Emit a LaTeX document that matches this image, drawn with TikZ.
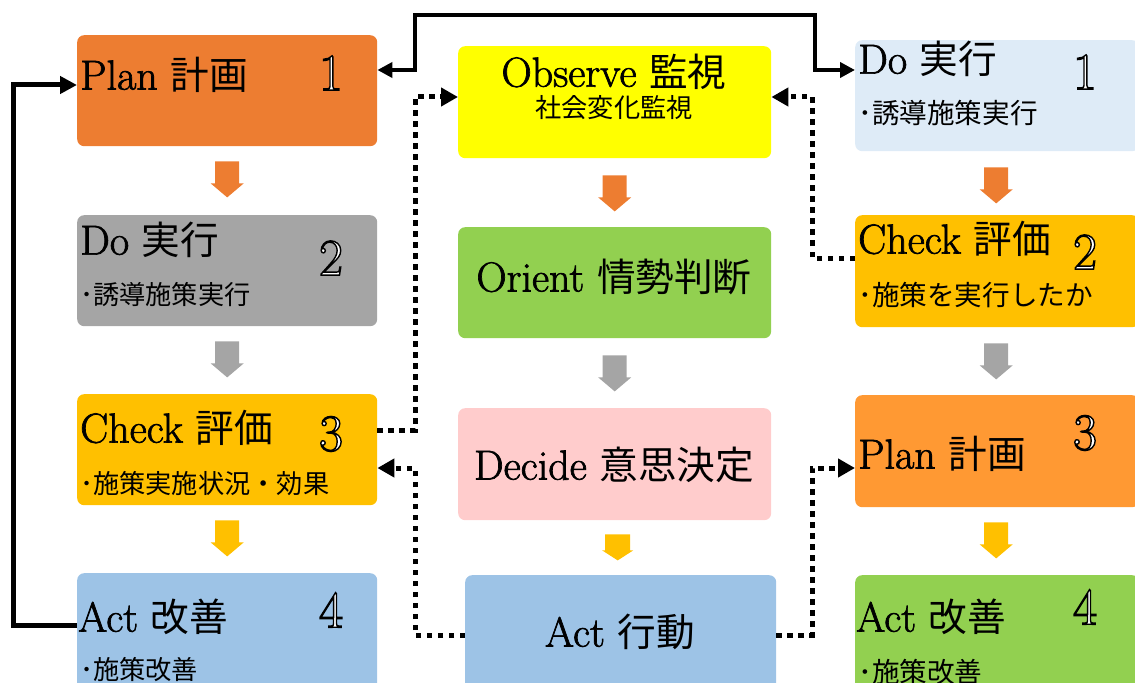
\documentclass[tikz,border=0pt]{standalone}
\usepackage{fontspec}
\newfontfamily\jp[Scale=0.92]{Noto Sans CJK JP}
\usetikzlibrary{calc,arrows.meta}
\definecolor{cOrange}{HTML}{ED7D31}
\definecolor{cGray}{HTML}{A5A5A5}
\definecolor{cGold}{HTML}{FFC000}
\definecolor{cBlue}{HTML}{9DC3E6}
\definecolor{cYellow}{HTML}{FFFF00}
\definecolor{cGreen}{HTML}{92D050}
\definecolor{cPink}{HTML}{FFCCCC}
\definecolor{cLight}{HTML}{DEEBF7}
\definecolor{cOrangeB}{HTML}{FF9933}
% outlined number: white fill, black stroke
\newcommand\olnum[1]{\textcolor{white}{\special{pdf:literal direct 2 Tr 1.4 w 0 G}#1\special{pdf:literal direct 0 Tr}}}
% slightly heavier latin text
\newcommand\lat[1]{\special{pdf:literal direct 2 Tr 0.7 w}#1\special{pdf:literal direct 0 Tr}}
\tikzset{
  box/.style={rounded corners=7bp, inner sep=0pt, anchor=north west, draw=none},
  ttl/.style={font=\fontsize{42bp}{48bp}\selectfont, inner sep=0pt, anchor=west},
  ttlc/.style={font=\fontsize{42bp}{48bp}\selectfont, inner sep=0pt, anchor=center},
  sub/.style={font=\fontsize{28.5bp}{33bp}\selectfont\jp, inner sep=0pt, anchor=west},
  subr/.style={font=\fontsize{30bp}{34bp}\selectfont\jp, inner sep=0pt, anchor=west},
  subc/.style={font=\fontsize{28.5bp}{33bp}\selectfont\jp, inner sep=0pt, anchor=center},
  num/.style={font=\fontsize{52bp}{56bp}\selectfont, inner sep=0pt, anchor=center},
  blockarrow/.pic={\path[pic actions] (-12,0) -- (12,0) -- (12,22) -- (16.5,22) -- (0,36) -- (-16.5,22) -- (-12,22) -- cycle;},
  blockarrowsmall/.pic={\path[pic actions] (-12.5,0) -- (12.5,0) -- (12.5,16) -- (15.5,16) -- (0,26) -- (-15.5,16) -- (-12.5,16) -- cycle;},
  solidline/.style={line width=4bp, -{Triangle[length=15bp,width=15bp]}},
  dotline/.style={line width=5bp, dash pattern=on 5.5bp off 5.5bp, -{Triangle[length=17bp,width=18bp]}},
}
\begin{document}
\begin{tikzpicture}[x=1bp,y=-1bp]
\useasboundingbox (0,0) rectangle (1135,683);
\clip (0,0) rectangle (1135,683);
% boxes
\node[box, fill=cOrange, minimum width=300bp, minimum height=111bp] (L1) at (77,35) {};
\node[box, fill=cGray,   minimum width=300bp, minimum height=111bp] (L2) at (77,215) {};
\node[box, fill=cGold,   minimum width=300bp, minimum height=111bp] (L3) at (77,394) {};
\node[box, fill=cBlue,   minimum width=300bp, minimum height=125bp] (L4) at (77,573) {};
\node[box, fill=cYellow, minimum width=313bp, minimum height=112bp] (M1) at (458,46) {};
\node[box, fill=cGreen,  minimum width=313bp, minimum height=111bp] (M2) at (458,227) {};
\node[box, fill=cPink,   minimum width=313bp, minimum height=112bp] (M3) at (458,408) {};
\node[box, fill=cBlue,   minimum width=311bp, minimum height=125bp] (M4) at (465,575) {};
\node[box, fill=cLight,  minimum width=284bp, minimum height=111bp] (R1) at (855,40) {};
\node[box, fill=cGold,   minimum width=284bp, minimum height=112bp] (R2) at (855,215) {};
\node[box, fill=cOrangeB,minimum width=284bp, minimum height=112bp] (R3) at (855,395) {};
\node[box, fill=cGreen,  minimum width=284bp, minimum height=125bp] (R4) at (855,575) {};
% texts left
\node[ttl] (L1t) at (80,75) {\lat{Plan} {\jp 計画}};
\node[num] (L1n) at (331,73) {\olnum{1}};
\node[ttl] (L2t) at (80,240) {\lat{Do} {\jp 実行}};
\node[sub] (L2s) at (80,295) {･誘導施策実行};
\node[num] (L2n) at (331,258) {\olnum{2}};
\node[ttl] (L3t) at (80,428) {\lat{Check} {\jp 評価}};
\node[sub] (L3s) at (80,484) {･施策実施状況・効果};
\node[num] (L3n) at (331,434) {\olnum{3}};
\node[ttl] (L4t) at (78,617) {\lat{Act} {\jp 改善}};
\node[sub] (L4s) at (80,670) {･施策改善};
\node[num] (L4n) at (331,610) {\olnum{4}};
% texts middle
\node[ttlc] (M1t) at (614,72) {\lat{Observe} {\jp 監視}};
\node[subc] (M1s) at (614,108) {社会変化監視};
\node[ttlc] (M2t) at (614,277) {\lat{Orient} {\jp 情勢判断}};
\node[ttlc] (M3t) at (614,465) {\lat{Decide} {\jp 意思決定}};
\node[ttlc] (M4t) at (620,632) {\lat{Act} {\jp 行動}};
% texts right
\node[ttl] (R1t) at (858,59) {\lat{Do} {\jp 実行}};
\node[subr] (R1s) at (858,113) {･誘導施策実行};
\node[num] (R1n) at (1085,72) {\olnum{1}};
\node[ttl] (R2t) at (858,239) {\lat{Check} {\jp 評価}};
\node[subr] (R2s) at (858,295) {･施策を実行したか};
\node[num] (R2n) at (1085,252) {\olnum{2}};
\node[ttl] (R3t) at (858,454) {\lat{Plan} {\jp 計画}};
\node[num] (R3n) at (1085,433) {\olnum{3}};
\node[ttl] (R4t) at (856,617) {\lat{Act} {\jp 改善}};
\node[subr] (R4s) at (858,672) {･施策改善};
\node[num] (R4n) at (1085,607) {\olnum{4}};
% block arrows
\pic[fill=cOrange] at ($(L1.south)+(0,15)$) {blockarrow};
\pic[fill=cGray]   at ($(L2.south)+(0,15)$) {blockarrow};
\pic[fill=cGold]   at ($(L3.south)+(0,15)$) {blockarrow};
\pic[fill=cOrange] at ($(M1.south)+(0,17)$) {blockarrow};
\pic[fill=cGray]   at ($(M2.south)+(0,17)$) {blockarrow};
\pic[fill=cGold]   at ($(M3.south)+(3,14)$) {blockarrowsmall};
\pic[fill=cOrange] at ($(R1.south)+(-1,16)$) {blockarrow};
\pic[fill=cGray]   at ($(R2.south)+(-1,16)$) {blockarrow};
\pic[fill=cGold]   at ($(R3.south)+(-1,15)$) {blockarrow};
% solid connectors
\draw[solidline, {Triangle[length=15bp,width=15bp]}-{Triangle[length=15bp,width=15bp]}]
  ($(L1.north east)+(0,35)$) coordinate (a1) -- (415,70) -- (415,15) -- (815,15) -- (815,70) -- (R1.west |- a1);
\draw[line width=5bp, -{Triangle[length=17bp,width=17bp]}]
  ($(L4.north west)+(0,52)$) -- (13,625) -- (13,85) -- ($(L1.north west)+(0,50)$);
% dotted connectors
\draw[dotline] ($(L3.north east)+(0,36)$) -- (415,430) -- (415,97) -- ($(M1.north west)+(0,51)$);
\draw[dotline] ($(R2.north west)+(0,43)$) -- (812,258) -- (812,97) -- ($(M1.north east)+(0,51)$);
\draw[dotline] ($(M4.north west)+(0,60)$) -- (415,635) -- (415,468) -- ($(L3.north east)+(0,74)$);
\draw[dotline] ($(M4.north east)+(0,60)$) -- (812,635) -- (812,468) -- ($(R3.north west)+(0,73)$);
\end{tikzpicture}
\end{document}
